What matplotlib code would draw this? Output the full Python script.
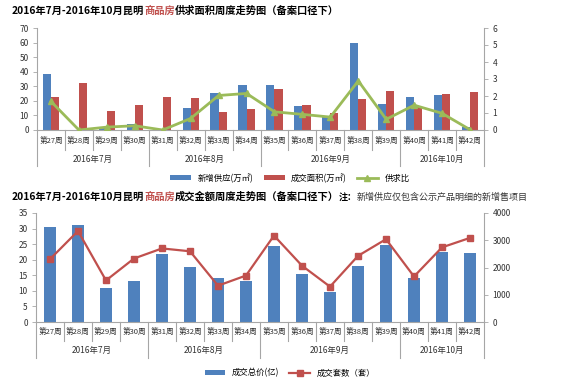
import numpy as np
import matplotlib
matplotlib.use('Agg')
import matplotlib.pyplot as plt
import matplotlib.transforms as mtransforms

plt.rcParams['font.family'] = ['Noto Sans CJK SC', 'DejaVu Sans']
plt.rcParams['axes.unicode_minus'] = False

weeks = ['第%d周' % w for w in range(27, 43)]
months = ['2016年7月', '2016年8月', '2016年9月', '2016年10月']
month_len = [4, 4, 5, 3]

supply = [38.5, 0, 2.3, 4.3, 0, 15.3, 25.1, 31.0, 30.6, 16.2, 9.3, 59.7, 17.6, 22.6, 24.2, 1.8]
deal_area = [22.8, 32.4, 13.2, 17.1, 22.8, 22.3, 12.1, 14.6, 28.0, 16.9, 11.4, 21.0, 26.9, 15.7, 24.6, 26.2]
ratio = [1.68, 0, 0.17, 0.25, 0, 0.68, 2.03, 2.15, 1.07, 0.92, 0.76, 2.89, 0.63, 1.46, 0.98, 0.02]

deal_value = [30.6, 31.0, 11.0, 13.3, 21.8, 17.7, 14.2, 13.1, 24.5, 15.3, 9.7, 17.9, 24.6, 14.0, 22.4, 22.2]
deal_units = [2306, 3340, 1525, 2330, 2700, 2595, 1333, 1705, 3171, 2066, 1297, 2426, 3039, 1670, 2739, 3087]

BLUE = '#4F81BD'
RED = '#C0504D'
GREEN = '#9BBB59'
GREY = '#A6A6A6'
W, H = 580, 379


def fy(py):
    return 1 - py / H


def fx(px):
    return px / W


fig = plt.figure(figsize=(W / 100, H / 100), dpi=100)


def title_parts(x, y, parts):
    # draw pieces of a title one after another
    fig.canvas.draw()
    r = fig.canvas.get_renderer()
    for s, c, fw, fs in parts:
        t = fig.text(x, y, s, color=c, fontweight=fw, fontsize=fs, va='center', ha='left')
        bb = t.get_window_extent(renderer=r)
        x = x + bb.width / W


def style_axes(ax, ax2):
    for a in (ax, ax2):
        a.spines['top'].set_visible(False)
        for s in a.spines.values():
            s.set_color(GREY)
            s.set_linewidth(0.8)
        a.tick_params(labelsize=6, colors='#333333', length=3, width=0.6, pad=3)
        a.tick_params(axis='both', color=GREY)
    ax.spines['right'].set_visible(False)
    ax2.spines['left'].set_visible(False)
    ax2.spines['bottom'].set_visible(False)
    ax.set_xticks([])
    ax.set_xlim(-0.5, len(weeks) - 0.5)


def category_axis(ax, y_week, y_week_sep, y_month, y_month_sep):
    tr = mtransforms.blended_transform_factory(ax.transData, fig.transFigure)
    y0 = ax.get_position().y0
    for i, w in enumerate(weeks):
        ax.text(i, fy(y_week), w, transform=tr, ha='center', va='center',
                fontsize=5.5, color='#333333')
    edges = np.cumsum([0] + month_len) - 0.5
    for i in range(len(weeks) + 1):
        xb = i - 0.5
        bottom = y_month_sep if xb in edges else y_week_sep
        ax.plot([xb, xb], [y0, fy(bottom)], transform=tr, color=GREY, lw=0.8, clip_on=False)
    for m, a, b in zip(months, edges[:-1], edges[1:]):
        ax.text((a + b) / 2, fy(y_month), m, transform=tr, ha='center', va='center',
                fontsize=6, color='#333333')


# ---- top chart ----
ax1 = fig.add_axes([fx(37), fy(130), fx(447), (130 - 28) / H])
ax1r = ax1.twinx()
x = np.arange(len(weeks))
bw = 0.29
ax1.bar(x - bw / 2, supply, bw, color=BLUE, label='新增供应(万㎡)')
ax1.bar(x + bw / 2, deal_area, bw, color=RED, label='成交面积(万㎡)')
ax1r.plot(x, ratio, color=GREEN, lw=2, marker='^', ms=5, label='供求比')
ax1.set_ylim(0, 70)
ax1.set_yticks(range(0, 71, 10))
ax1r.set_ylim(0, 6)
ax1r.set_yticks(range(0, 7))
style_axes(ax1, ax1r)
category_axis(ax1, 141, 150, 159, 166)

h1, l1 = ax1.get_legend_handles_labels()
h2, l2 = ax1r.get_legend_handles_labels()
fig.legend(h1 + h2, l1 + l2, loc='center', bbox_to_anchor=(0.5, fy(178)), ncol=3,
           frameon=False, fontsize=6, handlelength=2.5, handleheight=0.6, columnspacing=1.2)

# ---- bottom chart ----
ax2 = fig.add_axes([fx(36), fy(322), fx(448), (322 - 213) / H])
ax2r = ax2.twinx()
ax2.bar(x, deal_value, 0.45, color=BLUE, label='成交总价(亿)')
ax2r.plot(x, deal_units, color=RED, lw=1.6, marker='s', ms=4.5, label='成交套数（套）')
ax2.set_ylim(0, 35)
ax2.set_yticks(range(0, 36, 5))
ax2r.set_ylim(0, 4000)
ax2r.set_yticks(range(0, 4001, 1000))
style_axes(ax2, ax2r)
category_axis(ax2, 332, 341, 350, 358)

h1, l1 = ax2.get_legend_handles_labels()
h2, l2 = ax2r.get_legend_handles_labels()
fig.legend(h1 + h2, l1 + l2, loc='center', bbox_to_anchor=(0.5, fy(373)), ncol=2,
           frameon=False, fontsize=6, handlelength=2.5, handleheight=0.6, columnspacing=1.2)

# ---- titles ----
title_parts(fx(12), fy(11), [('2016年7月-2016年10月昆明', 'black', 'heavy', 7.4),
                             ('商品房', RED, 'heavy', 7.4),
                             ('供求面积周度走势图（备案口径下）', 'black', 'heavy', 7.4)])
title_parts(fx(12), fy(197), [('2016年7月-2016年10月昆明', 'black', 'heavy', 7.4),
                              ('商品房', RED, 'heavy', 7.4),
                              ('成交金额周度走势图（备案口径下）', 'black', 'heavy', 7.4),
                              ('注：', 'black', 'bold', 6.5),
                              ('新增供应仅包含公示产品明细的新增售项目', '#333333', 'normal', 6.5)])

fig.savefig('out.png', dpi=100)
